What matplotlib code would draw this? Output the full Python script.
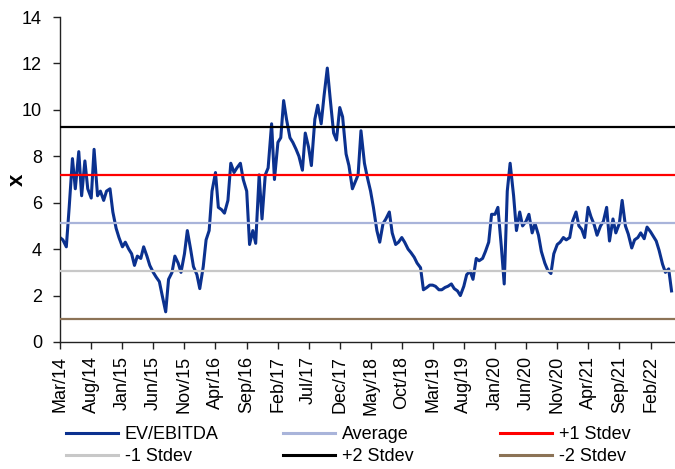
# EV/EBITDA history with mean and +/- 1 and 2 stdev bands

import matplotlib
matplotlib.use("Agg")
import matplotlib.pyplot as plt
import matplotlib.dates as mdates
from matplotlib.lines import Line2D
import pandas as pd

# semi-monthly readings, Mar 2014 .. May 2022
ev_ebitda = [
    4.5, 4.4, 4.1, 5.8, 7.9, 6.6, 8.2, 6.3, 7.8, 6.6,
    6.2, 8.3, 6.3, 6.5, 6.1, 6.5, 6.6, 5.6, 4.9, 4.5,
    4.1, 4.3, 4.0, 3.8, 3.3, 3.7, 3.6, 4.1, 3.7, 3.3,
    3.0, 2.8, 2.6, 2.0, 1.3, 2.7, 3.0, 3.7, 3.4, 3.0,
    3.8, 4.8, 4.0, 3.25, 2.9, 2.3, 3.25, 4.4, 4.8, 6.5,
    7.3, 5.8, 5.7, 5.55, 6.1, 7.7, 7.3, 7.5, 7.7, 7.0,
    6.5, 4.2, 4.8, 4.25, 7.2, 5.3, 7.2, 7.5, 9.4, 7.0,
    8.6, 8.8, 10.4, 9.6, 8.8, 8.6, 8.3, 8.0, 7.4, 9.0,
    8.4, 7.6, 9.6, 10.2, 9.4, 10.6, 11.8, 10.5, 9.0, 8.7,
    10.1, 9.7, 8.1, 7.6, 6.6, 6.9, 7.2, 9.1, 7.7, 7.1,
    6.5, 5.8, 4.8, 4.3, 5.1, 5.3, 5.6, 4.7, 4.2, 4.3,
    4.5, 4.3, 4.0, 3.85, 3.65, 3.4, 3.2, 2.25, 2.35, 2.45,
    2.45, 2.4, 2.25, 2.25, 2.35, 2.4, 2.5, 2.3, 2.2, 2.0,
    2.4, 2.9, 3.05, 2.7, 3.6, 3.5, 3.6, 3.9, 4.3, 5.5,
    5.5, 5.8, 4.1, 2.5, 6.5, 7.7, 6.3, 4.8, 5.6, 5.0,
    5.2, 5.5, 4.7, 5.1, 4.6, 3.9, 3.4, 3.1, 2.95, 3.8,
    4.2, 4.3, 4.5, 4.4, 4.5, 5.2, 5.6, 5.0, 4.85, 4.5,
    5.8, 5.4, 5.05, 4.6, 5.0, 5.2, 5.8, 4.35, 5.3, 4.7,
    5.1, 6.1, 5.0, 4.65, 4.05, 4.4, 4.5, 4.7, 4.45, 4.95,
    4.75, 4.55, 4.35, 3.95, 3.35, 3.0, 3.15, 2.2,
]
dates = pd.date_range("2014-03-01", periods=len(ev_ebitda), freq="SMS")

band_labels = ["Average", "+1 Stdev", "-1 Stdev", "+2 Stdev", "-2 Stdev"]
band_values = [5.12, 7.19, 3.06, 9.26, 1.0]
band_colors = ["#a9b4da", "#ff0000", "#c8c8c8", "#000000", "#8c7356"]
series_color = "#0b318f"

tick_dates = pd.date_range("2014-03-01", "2022-02-01", freq="5MS")

plt.rcParams["font.family"] = ["Liberation Sans", "DejaVu Sans"]
plt.rcParams["font.size"] = 13

fig = plt.figure(figsize=(6.75, 4.69), dpi=100)
ax = fig.add_axes([60 / 675, 1 - 342 / 469, 615 / 675, 325 / 469])

ax.plot(dates, ev_ebitda, color=series_color, lw=2.2, zorder=2)
for lab, val, col in zip(band_labels, band_values, band_colors):
    ax.axhline(val, color=col, lw=1.6, zorder=3)

ax.set_xlim(pd.Timestamp("2014-03-01"), pd.Timestamp("2022-06-01"))
ax.set_ylim(0, 14)
ax.set_yticks(range(0, 15, 2))
ax.set_xticks(tick_dates)
ax.xaxis.set_major_formatter(mdates.DateFormatter("%b/%y"))
plt.setp(ax.get_xticklabels(), rotation=90)

for s in ["top", "right"]:
    ax.spines[s].set_visible(False)
for s in ["left", "bottom"]:
    ax.spines[s].set_color("#222222")
    ax.spines[s].set_linewidth(1.0)
ax.tick_params(axis="y", direction="out", length=5, width=1, pad=8, colors="#222222", labelcolor="black")
ax.tick_params(axis="x", direction="out", length=5, width=1, pad=5, colors="#222222", labelcolor="black")

ax.set_ylabel("x", fontweight="bold", fontsize=16)
ax.yaxis.set_label_coords(-0.053, 0.5)

# three legend columns, two rows each
handles = {"EV/EBITDA": Line2D([], [], color=series_color, lw=2.2)}
for lab, col in zip(band_labels, band_colors):
    handles[lab] = Line2D([], [], color=col, lw=2.2)
columns = [["EV/EBITDA", "-1 Stdev"], ["Average", "+2 Stdev"], ["+1 Stdev", "-2 Stdev"]]
col_x = [66, 283, 500]
for names, x0 in zip(columns, col_x):
    fig.legend([handles[n] for n in names], names, loc="upper left",
               bbox_to_anchor=(x0 / 675, 1 - 426 / 469), frameon=False,
               borderpad=0, borderaxespad=0, handlelength=2.9,
               handletextpad=0.35, labelspacing=0.3, fontsize=13)

fig.savefig("out.png", dpi=100)
